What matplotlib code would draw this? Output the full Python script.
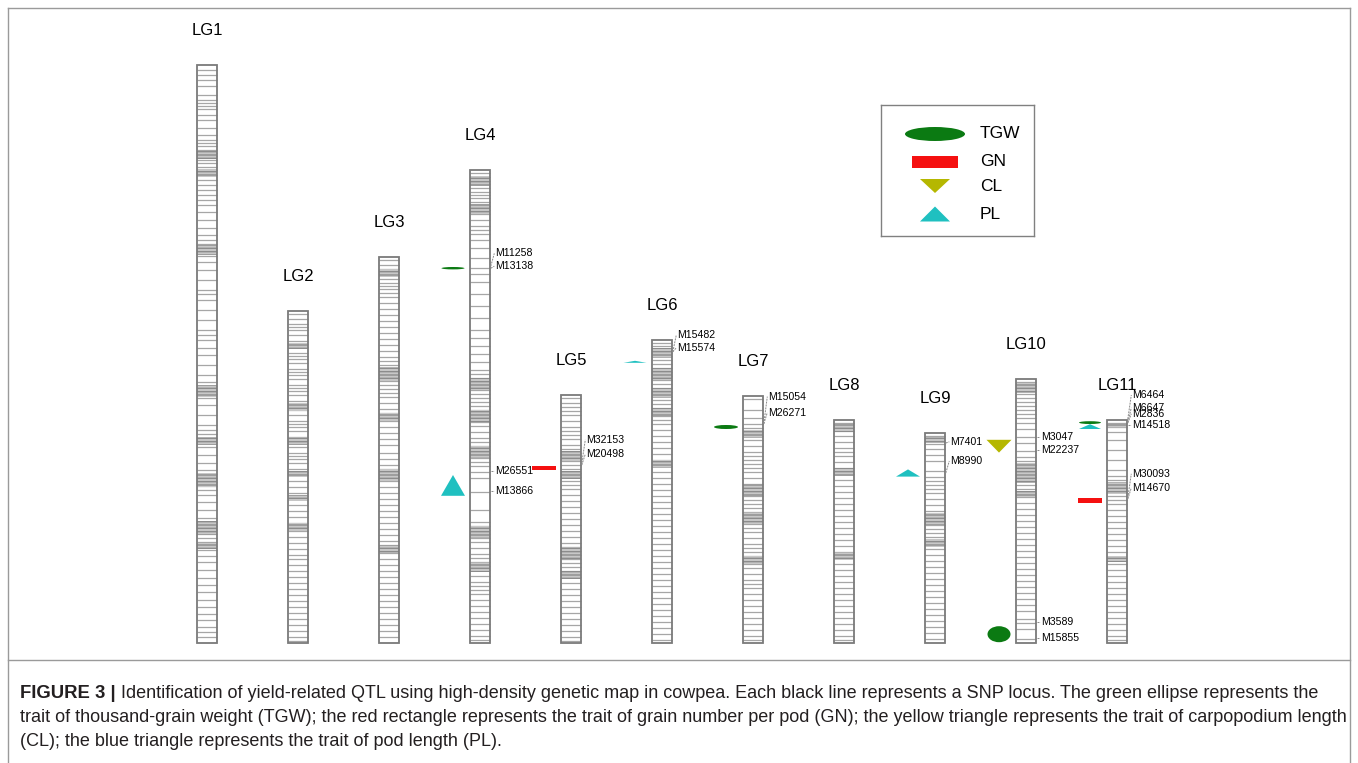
import matplotlib.pyplot as plt
from matplotlib.patches import Rectangle, Ellipse, Polygon

plt.rcParams['font.family'] = ['Liberation Sans', 'DejaVu Sans']
plt.rcParams['hatch.linewidth'] = 1.0

# linkage groups and their lengths (cM), drawn bottom-aligned
groups = ['LG1', 'LG2', 'LG3', 'LG4', 'LG5', 'LG6', 'LG7', 'LG8', 'LG9', 'LG10', 'LG11']
lengths = [144.5, 83.0, 96.5, 118.2, 62.0, 75.8, 61.8, 55.8, 52.5, 66.0, 55.8]

# SNP positions (cM from the top of each group)
snp_lg1 = [1.2, 2.5, 3.8, 5.2, 7.5, 8.8, 9.5, 10.2, 11, 12.5, 13.8, 15.8, 17.5, 18.8, 19.5,
           20.2, 21.2, 22, 22.8, 23.8, 24.5, 25.5, 26.2, 27.5, 28.8, 30, 31.2, 32.5, 33.8,
           35, 36.8, 38.8, 40.8, 42.5, 43.8, 44.8, 45.8, 46.8, 47.8, 49.2, 51.2, 53.8, 56.2,
           57.2, 58.8, 61.2, 63.8, 66.2, 67.5, 68.8, 70.8, 72.5, 75, 77.5, 79.2, 80.2, 81.2,
           82.2, 83.2, 85, 87.5, 90, 91.2, 92.2, 93.2, 94.2, 95.5, 97.5, 99.5, 101.2, 102.2,
           103.2, 104.2, 105.2, 106.2, 107.5, 109.2, 111.2, 113.2, 114.2, 115.2, 116.2, 117.2,
           118.2, 119.2, 120.2, 121.2, 122.8, 124.2, 126.2, 128.2, 130, 131.8, 133.8, 135.5,
           137.2, 138.8, 140.5, 141.8, 143]
snp_lg2 = [0.8, 2, 3.2, 4, 4.8, 6, 7.5, 8.2, 9, 10.5, 11.2, 12, 13, 14.5, 15.2, 16, 17, 18.5,
           19.2, 20, 21, 22.5, 23.2, 24, 24.8, 26, 27.5, 28.2, 29, 30, 31.5, 32.2, 33, 34, 35.5,
           36.2, 37, 38, 39.5, 40.2, 41, 42.5, 44, 45.5, 46.2, 47, 48.5, 50, 51.5, 53, 54, 55,
           56.5, 58, 59.5, 61, 62, 63.5, 65, 66.5, 68, 69.5, 71, 72.5, 74, 75.5, 77, 78.5, 80,
           81.5, 82.5]
snp_lg3 = [0.8, 2, 3, 3.8, 4.6, 5.5, 6.5, 7.2, 8, 9, 10, 11.5, 13, 14.5, 16, 17.5, 19, 20.5,
           22, 23.5, 25, 26, 27, 27.8, 28.6, 29.5, 30.3, 31, 32, 33, 34, 35, 36.5, 38, 39, 40,
           41, 42.5, 44, 45.5, 47, 49, 50.5, 52, 53, 54, 55, 56, 57.5, 59, 60.5, 62, 63.5, 65,
           66.5, 68, 69.5, 71, 72, 73, 74, 75.5, 77, 78.5, 80, 81.5, 83, 84.5, 86, 87.5, 89,
           90.5, 92, 93.5, 95]
snp_lg4 = [0.8, 1.8, 2.6, 3.5, 4.5, 5.5, 6.2, 7, 8, 9, 10, 11, 12.5, 14, 15, 16, 17.5, 19.5,
           22, 24.5, 26, 28, 31, 34, 37, 40, 42, 44, 46, 48, 50, 51, 52, 53, 54, 55, 56, 57,
           58, 59, 60, 61, 62, 63, 64, 65.5, 67, 68, 69, 70, 71, 72, 73, 74, 75.5, 77, 80.5,
           85, 88, 89, 90, 91, 92, 93, 94.5, 96, 97, 98, 99, 100, 101.5, 103, 104, 105, 106,
           107.5, 109, 110.5, 112, 113.5, 115, 116.5, 117.5]
snp_lg5 = [0.8, 2, 3, 4, 5, 6.5, 8, 9, 10, 11, 12.5, 13.5, 14.5, 15.5, 16.5, 17.5, 18.5,
           19.5, 20.5, 21.5, 22.5, 23.5, 25, 26.5, 28, 29.5, 31, 32.5, 34, 35.5, 37, 38, 39,
           40, 41, 42, 43, 44, 45.5, 47, 48.5, 50, 51.5, 53, 54.5, 56, 57.5, 59, 60.5, 61.5]
snp_lg6 = [0.8, 1.6, 2.4, 3.2, 4, 5, 6, 7, 8, 9, 10, 11, 12, 13, 14, 15, 16, 17, 18, 19, 20,
           21, 22.5, 24, 25.5, 27, 28.5, 30, 31.5, 33, 34.5, 36, 37.5, 39, 40.5, 42, 43.5, 45,
           46.5, 48, 49.5, 51, 52.5, 54, 55.5, 57, 58.5, 60, 61.5, 63, 64.5, 66, 67.5, 69,
           70.5, 72, 73.5, 75]
snp_lg7 = [0.8, 3.5, 5.5, 7, 8, 9, 10, 11, 12.5, 14, 15, 16, 17, 18, 19, 20.5, 22, 23, 24,
           25, 26, 27, 28, 29, 30, 31, 32, 33, 34, 35.5, 37, 38, 39, 40, 41, 42, 43, 44.5, 46,
           47, 48, 49.5, 51, 52.5, 54, 55.5, 57, 58.5, 60, 61]
snp_lg8 = [0.8, 1.8, 2.8, 4, 5.5, 7, 8, 9, 10.5, 12, 13.5, 15, 16.5, 18, 19.5, 21, 22.5, 24,
           25.5, 27, 28.5, 30, 31.5, 33, 34.5, 36, 37.5, 39, 40.5, 42, 43.5, 45, 46.5, 48,
           49.5, 51, 52.5, 54, 55]
snp_lg9 = [0.8, 1.8, 2.8, 4, 5.5, 7, 9.5, 11, 12, 13, 14, 15, 16.5, 18, 19.5, 21, 22, 23, 24,
           25, 26, 27, 28, 29, 30.5, 32, 33.5, 35, 36.5, 38, 39.5, 41, 42.5, 44, 45.5, 47, 48.5,
           50, 51.5]
snp_lg10 = [0.8, 1.8, 2.8, 3.8, 4.8, 5.8, 6.8, 7.8, 8.8, 9.8, 11, 12.5, 14.5, 16, 18, 19.5,
            20.5, 21.5, 22.5, 23.5, 24.5, 25.5, 26.5, 27.5, 28.5, 29.5, 31, 32.5, 34, 35.5, 37,
            38.5, 40, 41.5, 43, 44.5, 46, 47.5, 49, 50.5, 52, 53.5, 55, 56.5, 58, 60, 61, 62.5,
            65]
snp_lg11 = [0.8, 1.8, 3, 5, 7.5, 10, 12.5, 14, 15, 16, 17, 18, 19, 20, 21, 22.5, 24, 25.5,
            27, 28.5, 30, 31.5, 33, 34.5, 36, 37.5, 39, 40.5, 42, 43.5, 45, 46.5, 48, 49.5, 51,
            52.5, 54, 55]
snps = [snp_lg1, snp_lg2, snp_lg3, snp_lg4, snp_lg5, snp_lg6,
        snp_lg7, snp_lg8, snp_lg9, snp_lg10, snp_lg11]

# clusters of tightly packed SNPs (cM from top), seen as dark grey blocks
dense_lg1 = [(21.5, 23.5), (26, 28), (45, 47.5), (80, 83), (93, 95), (102, 105.5),
             (114, 117.5), (119.5, 121)]
dense_lg2 = [(8, 9.5), (23, 25), (31.5, 33.5), (40, 41.5), (46, 47.5), (53, 55)]
dense_lg3 = [(3, 5), (27.5, 31), (39, 41), (53, 56), (72, 74)]
dense_lg4 = [(1.5, 4), (8.5, 11), (52, 55), (60, 63), (69, 72), (89, 92), (98, 100.5)]
dense_lg5 = [(14, 16.5), (19, 21), (38, 41), (44, 46)]
dense_lg6 = [(2, 4.5), (7, 10), (12, 14.5), (17, 19), (30, 32)]
dense_lg7 = [(8.5, 10.5), (22, 25), (29, 32), (40, 42)]
dense_lg8 = [(1, 3), (12, 14), (33, 35)]
dense_lg9 = [(1, 2.5), (20, 23), (26.5, 28.5)]
dense_lg10 = [(1, 3.5), (21, 26), (28, 29.5)]
dense_lg11 = [(1, 2), (15.5, 18.5), (34, 35.5)]
dense = [dense_lg1, dense_lg2, dense_lg3, dense_lg4, dense_lg5, dense_lg6,
         dense_lg7, dense_lg8, dense_lg9, dense_lg10, dense_lg11]

# QTL: group index, trait, position (cM from top), symbol width / height
qtl_group = [3, 3, 4, 5, 6, 8, 9, 9, 10, 10, 10]
qtl_trait = ['TGW', 'PL', 'GN', 'PL', 'TGW', 'PL', 'CL', 'TGW', 'TGW', 'PL', 'GN']
qtl_pos = [24.5, 78.8, 18.2, 5.5, 7.8, 10.0, 16.8, 63.8, 0.7, 1.7, 20.2]
qtl_w = [23, 24, 24, 23, 24, 24, 25, 23, 22, 22, 24]          # px
qtl_h = [0.6, 5.2, 1.0, 0.5, 1.0, 1.8, 3.2, 4.0, 0.7, 1.2, 1.2]  # cM

# flanking markers: group index, name, label position, link position (cM from top)
mk_group = [3, 3, 3, 3, 4, 4, 5, 5, 6, 6, 8, 8, 9, 9, 9, 9, 10, 10, 10, 10, 10, 10]
mk_name = ['M11258', 'M13138', 'M26551', 'M13866', 'M32153', 'M20498', 'M15482', 'M15574',
           'M15054', 'M26271', 'M7401', 'M8990', 'M3047', 'M22237', 'M3589', 'M15855',
           'M6464', 'M6647', 'M2836', 'M14518', 'M30093', 'M14670']
mk_label = [20.8, 24.0, 75.2, 80.2, 11.2, 14.8, -1.2, 2.0, 0.2, 4.2, 2.2, 7.0,
            14.5, 17.8, 60.8, 64.8, -6.2, -3.0, -1.5, 1.2, 13.5, 17.0]
mk_link = [24.0, 24.5, 75.2, 80.2, 17.0, 17.5, 3.0, 3.0, 7.0, 7.0, 2.5, 10.0,
           14.5, 17.8, 60.8, 64.8, -0.2, 0.6, 0.8, 1.2, 19.5, 19.8]

traits = ['TGW', 'GN', 'CL', 'PL']
trait_color = {'TGW': '#0b7a12', 'GN': '#f51010', 'CL': '#b5b700', 'PL': '#1fc0c0'}

caption_bold = 'FIGURE 3 | '
caption_lines = [
    'Identification of yield-related QTL using high-density genetic map in cowpea. Each black '
    'line represents a SNP locus. The green ellipse represents the',
    'trait of thousand-grain weight (TGW); the red rectangle represents the trait of grain '
    'number per pod (GN); the yellow triangle represents the trait of carpopodium length',
    '(CL); the blue triangle represents the trait of pod length (PL).']

W, H = 1358, 763
PX = 1 / 91.0      # x data units per pixel
CM = 4.0           # pixels per cM
half = 9.8 * PX


def draw_symbol(ax, trait, xc, yc, w, h, flip=False, **kw):
    c = trait_color[trait]
    s = -1 if flip else 1
    if trait == 'TGW':
        p = Ellipse((xc, yc), w, h, color=c, lw=0, **kw)
    elif trait == 'GN':
        p = Rectangle((xc - w / 2, yc - h / 2), w, h, color=c, lw=0, **kw)
    elif trait == 'CL':
        p = Polygon([(xc - w / 2, yc + s * h / 2), (xc + w / 2, yc + s * h / 2),
                     (xc, yc - s * h / 2)], color=c, lw=0, **kw)
    else:
        p = Polygon([(xc - w / 2, yc - s * h / 2), (xc + w / 2, yc - s * h / 2),
                     (xc, yc + s * h / 2)], color=c, lw=0, **kw)
    ax.add_patch(p)


fig = plt.figure(figsize=(W / 100, H / 100), dpi=100)
ax = fig.add_axes([0, 0, 1, 1])
ax.set_xlim(-207 * PX, (W - 207) * PX)
ax.set_ylim(-(H - 643) / CM, 643 / CM)
ax.axis('off')

# linkage groups
for i, (name, L) in enumerate(zip(groups, lengths)):
    ys = [L - s for s in snps[i]]
    ax.hlines(ys, i - half, i + half, color='#a6a6a6', lw=0.9, zorder=2)
    # packed SNP clusters drawn as striped grey blocks
    for a, b in dense[i]:
        ax.add_patch(Rectangle((i - half, L - b), 2 * half, b - a, facecolor='#c8c8c8',
                               edgecolor='#8c8c8c', hatch='-----', lw=0, zorder=2))
    ax.add_patch(Rectangle((i - half, 0), 2 * half, L, fill=False,
                           ec='#7a7a7a', lw=1.3, zorder=3))
    ax.text(i, L + 8.6, name, ha='center', va='center', fontsize=12)

# QTL symbols
for g, t, p, w, h in zip(qtl_group, qtl_trait, qtl_pos, qtl_w, qtl_h):
    draw_symbol(ax, t, g - 27 * PX, lengths[g] - p, w * PX, h, zorder=4)

# flanking markers with leader lines
for g, n, lab, lk in zip(mk_group, mk_name, mk_label, mk_link):
    L = lengths[g]
    x0 = g + half
    ax.plot([x0 + 1 * PX, x0 + 4.5 * PX], [L - lk, L - lab], color='#8a8a8a', lw=0.7,
            ls=(0, (2, 1)), zorder=3)
    ax.text(x0 + 5 * PX, L - lab, n, ha='left', va='center', fontsize=7.6)

# legend box
lg = fig.add_axes([881 / W, 1 - 236 / H, 153 / W, 131 / H])
lg.set_xlim(0, 153)
lg.set_ylim(131, 0)
lg.set_xticks([])
lg.set_yticks([])
for s in lg.spines.values():
    s.set_color('#808080')
    s.set_linewidth(1.0)
leg_y = [29, 57, 81, 109]
leg_w = [60, 46, 30, 30]
leg_h = [14, 12, 14, 15]
for t, y, w, h in zip(traits, leg_y, leg_w, leg_h):
    # legend y axis points down, so triangles are flipped
    draw_symbol(lg, t, 54, y, w, h, flip=True)
    lg.text(99, y, t, ha='left', va='center', fontsize=12.5)

# frame and caption
fr = dict(color='#9a9a9a', lw=1.0, transform=fig.transFigure)
fig.add_artist(plt.Line2D([8 / W, 8 / W], [0, 1 - 8 / H], **fr))
fig.add_artist(plt.Line2D([1350 / W, 1350 / W], [0, 1 - 8 / H], **fr))
fig.add_artist(plt.Line2D([8 / W, 1350 / W], [1 - 8 / H, 1 - 8 / H], **fr))
fig.add_artist(plt.Line2D([8 / W, 1350 / W], [1 - 660 / H, 1 - 660 / H], **fr))

tb = fig.text(20 / W, 1 - 693 / H, caption_bold, fontsize=13.3, fontweight='bold',
              va='center', color='#231f20')
fig.canvas.draw()
ax.annotate(caption_lines[0], xy=(1, 0.5), xycoords=tb, va='center', fontsize=13,
            color='#231f20')
fig.text(20 / W, 1 - 717 / H, caption_lines[1], fontsize=13, va='center', color='#231f20')
fig.text(20 / W, 1 - 742 / H, caption_lines[2], fontsize=13, va='center', color='#231f20')

fig.savefig('out.png', dpi=100)
